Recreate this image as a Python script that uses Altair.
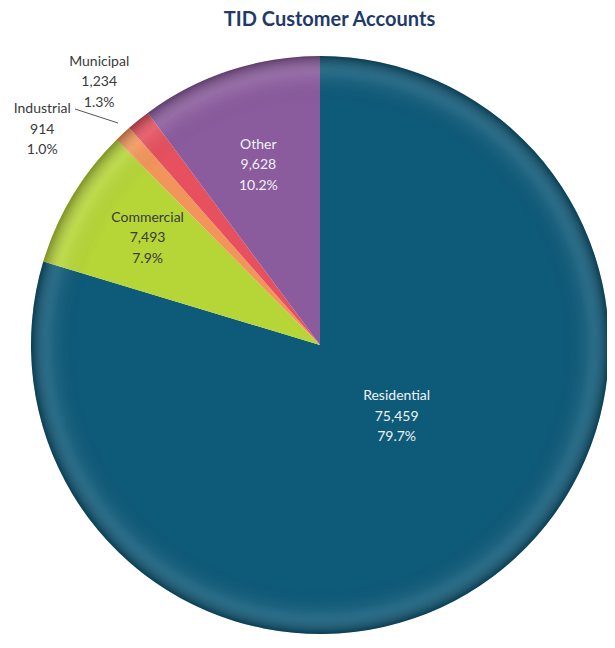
import altair as alt
import pandas as pd

categories = ["Residential", "Commercial", "Industrial", "Municipal", "Other"]
accounts = [75459, 7493, 914, 1234, 9628]
colors = ["#0e5a79", "#b6d638", "#f2955a", "#e6505f", "#8a5b9d"]
text_colors = ["#eef3f6", "#3a3a3a", "#3a3a3a", "#3a3a3a", "#eef3f6"]

total = sum(accounts)
df = pd.DataFrame({
    "category": categories,
    "accounts": accounts,
    "idx": list(range(len(categories))),
})
df["label"] = [
    f"{c}\n{v:,}\n{v / total * 100:.1f}%" for c, v in zip(categories, accounts)
]

CX, CY, R = 312, 305, 289

pie = alt.Chart(df).mark_arc(outerRadius=R, stroke=None).encode(
    theta=alt.Theta("accounts:Q", stack=True),
    order=alt.Order("idx:Q"),
    x=alt.value(CX),
    y=alt.value(CY),
    color=alt.Color("category:N", scale=alt.Scale(domain=categories, range=colors), legend=None),
)

shade = alt.Chart(pd.DataFrame({"k": [1]})).mark_arc(
    outerRadius=R,
    theta=0,
    theta2=6.2832,
    color=alt.RadialGradient(
        gradient="radial",
        x1=0.5, y1=0.5, r1=0, x2=0.5, y2=0.5, r2=0.5,
        stops=[
            alt.GradientStop(offset=0, color="rgba(0,0,0,0)"),
            alt.GradientStop(offset=0.84, color="rgba(0,0,0,0)"),
            alt.GradientStop(offset=0.94, color="rgba(255,255,255,0.10)"),
            alt.GradientStop(offset=1, color="rgba(0,0,0,0.32)"),
        ],
    ),
).encode(x=alt.value(CX), y=alt.value(CY))

# radius, dx, dy for each label
label_specs = {
    "Residential": (100, 17, -29),
    "Commercial": (200, -1, -24),
    "Industrial": (350, -39, 20),
    "Municipal": (345, -4, -15),
    "Other": (190, -2, -20),
}

label_base = alt.Chart(df).transform_window(
    cum="sum(accounts)", sort=[alt.SortField("idx")]
).transform_calculate(
    mid="datum.cum - datum.accounts / 2"
)

layers = [pie, shade]
for cat, (rad, ddx, ddy) in label_specs.items():
    tcol = text_colors[categories.index(cat)]
    layers.append(
        label_base.transform_filter(f"datum.category == '{cat}'").mark_text(
            radius=rad, dx=ddx, dy=ddy, lineBreak="\n", lineHeight=20.5,
            font="Lato", fontSize=14, color=tcol, align="center", baseline="middle",
        ).encode(
            theta=alt.Theta("mid:Q", scale=alt.Scale(domain=[0, total])),
            x=alt.value(CX), y=alt.value(CY), text="label:N",
        )
    )

leader = alt.Chart(pd.DataFrame({"k": [1]})).mark_rule(color="#555555", strokeWidth=1).encode(
    x=alt.value(67), y=alt.value(69), x2=alt.value(110), y2=alt.value(83)
)
layers.append(leader)

chart = alt.layer(*layers).resolve_scale(theta="independent").properties(
    width=599,
    height=602,
    padding={"left": 0, "top": 32, "right": 0, "bottom": 0},
    autosize=alt.AutoSizeParams(type="none"),
    title=alt.TitleParams(
        "TID Customer Accounts", font="Lato", fontSize=20, fontWeight="bold",
        color="#1f3a68", anchor="middle", frame="group", dx=22, offset=10,
    ),
).configure_view(stroke=None)

chart.save("out.html", embed_options={"renderer": "svg", "actions": False})
